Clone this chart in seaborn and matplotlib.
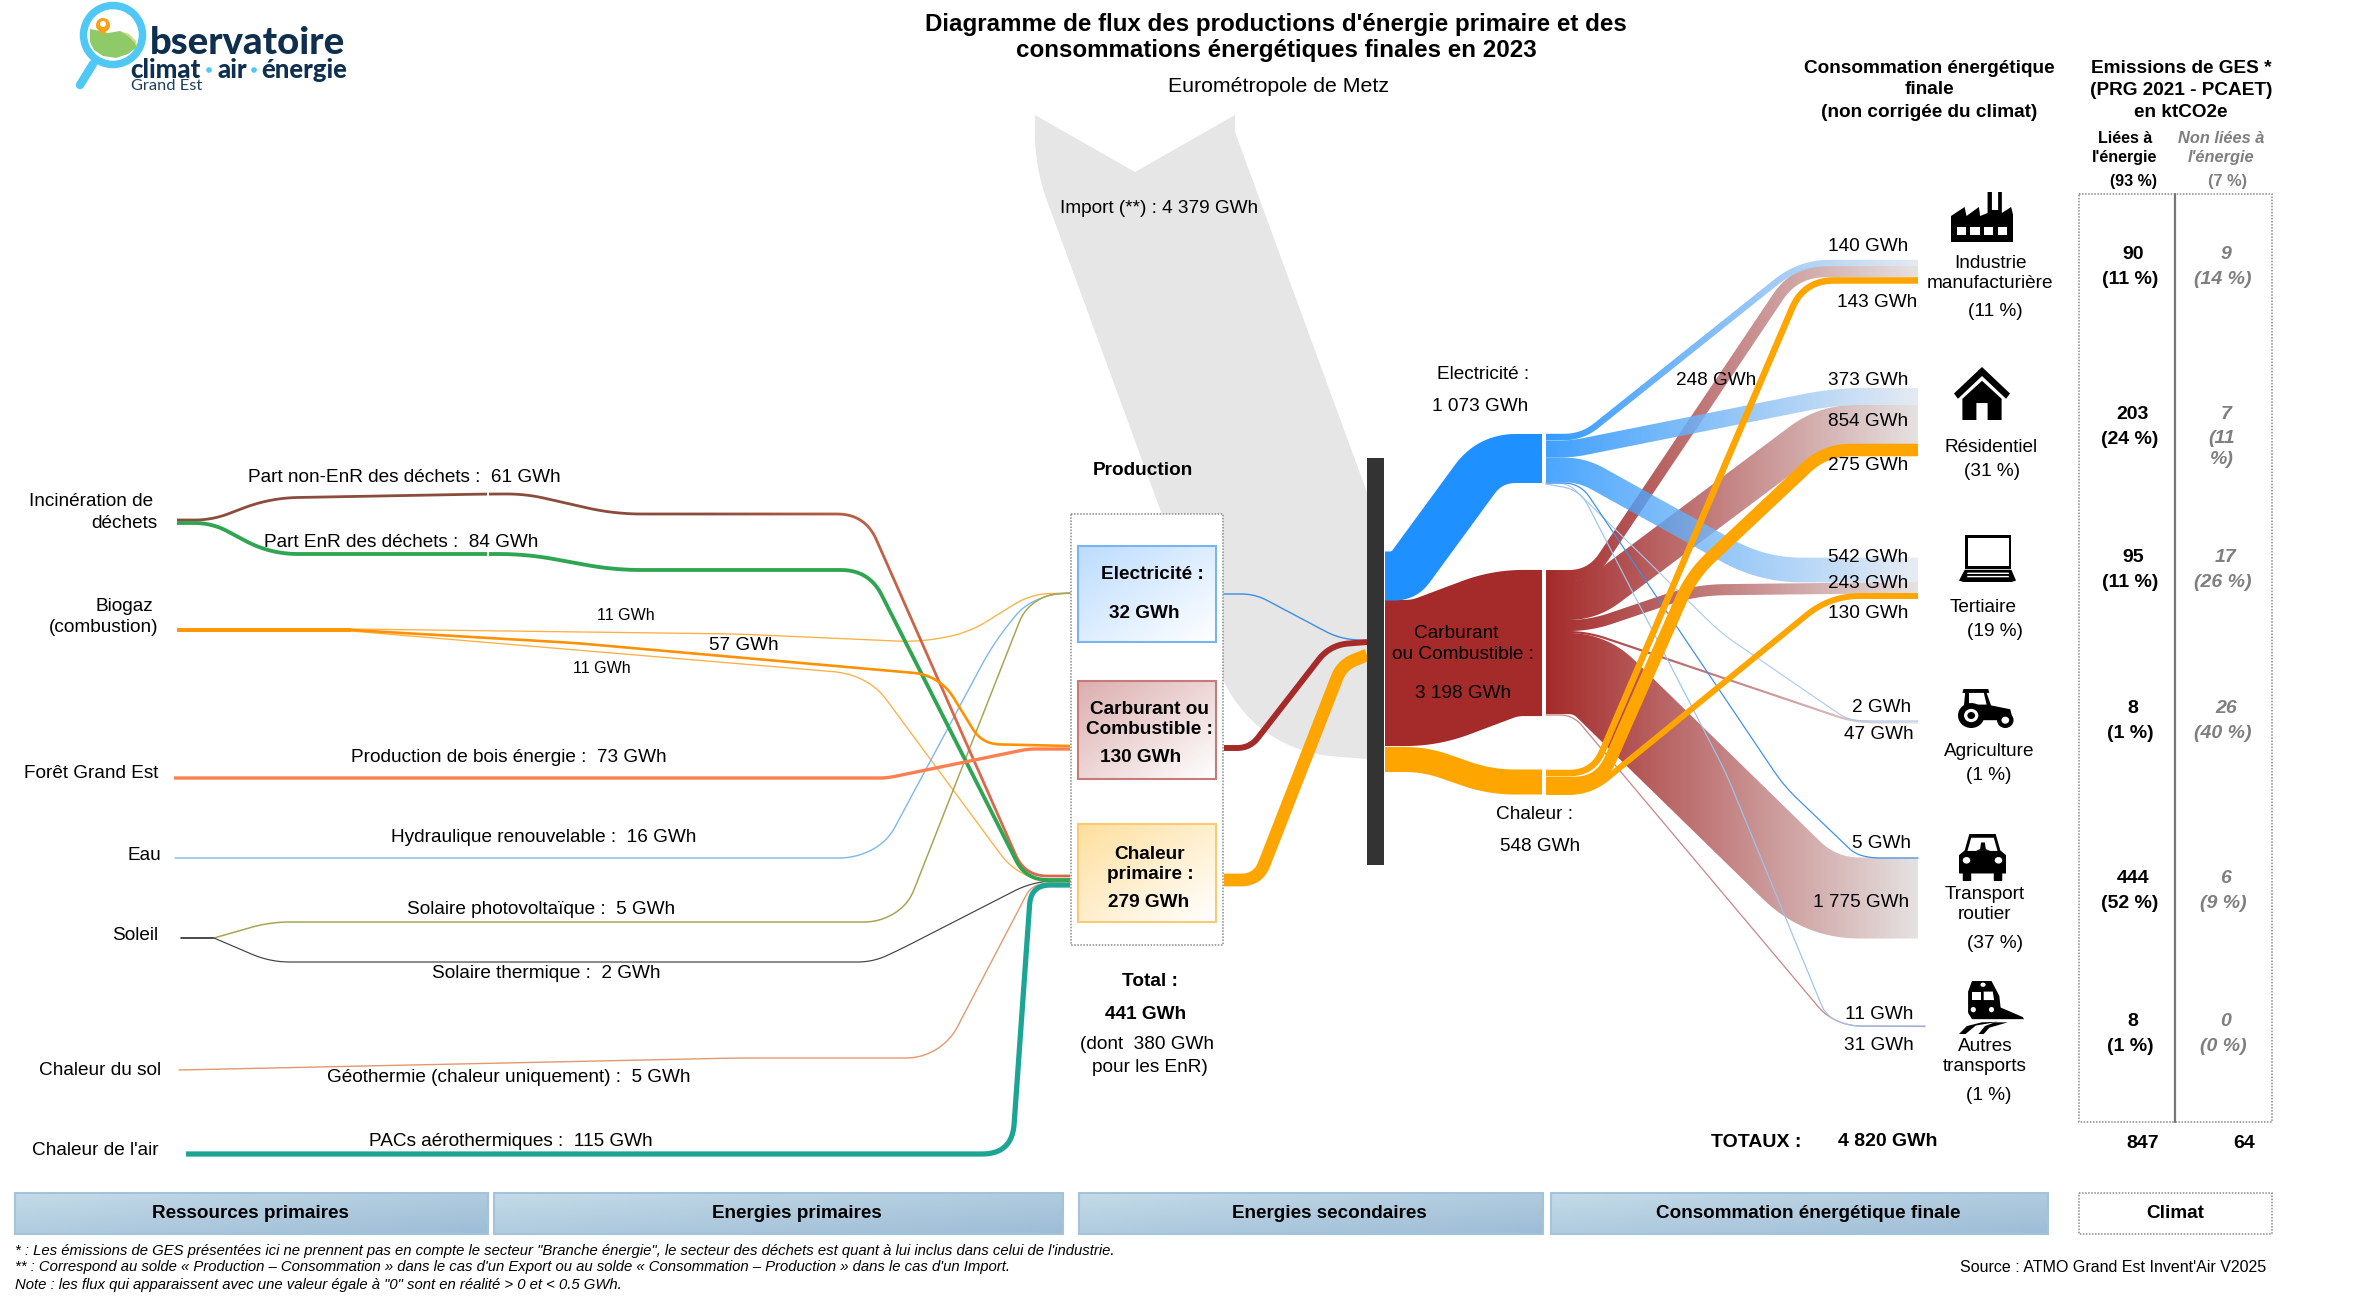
import numpy as np
import matplotlib
matplotlib.use("Agg")
import matplotlib.pyplot as plt
from matplotlib.patches import Polygon, Rectangle, Circle, Ellipse
from matplotlib.colors import to_rgb
import seaborn as sns

# values (GWh)
dechets_nonenr = 61
dechets_enr = 84
biogaz_vals = [11, 57, 11]
bois = 73
hydro = 16
solaire_pv = 5
solaire_th = 2
geothermie = 5
pac = 115
import_val = 4379
prod_labels = ["Electricité :", "Carburant ou\nCombustible :", "Chaleur\nprimaire :"]
prod_vals = [32, 130, 279]
prod_total = 441
prod_enr = 380
sec_vals = [1073, 3198, 548]
# order: industrie, residentiel, tertiaire, agriculture, transport, autres
elec_out = [140, 373, 542, 2, 5, 11]
carb_out = [248, 854, 243, 47, 1775, 31]
chal_out = [143, 275, 130]
secteurs = ["Industrie\nmanufacturière", "Résidentiel", "Tertiaire", "Agriculture", "Transport\nroutier", "Autres\ntransports"]
secteurs_pct = [11, 31, 19, 1, 37, 1]
conso_total = 4820
ges_energie = [90, 203, 95, 8, 444, 8]
ges_energie_pct = [11, 24, 11, 1, 52, 1]
ges_autre = [9, 7, 17, 26, 6, 0]
ges_autre_pct = [14, 11, 26, 40, 9, 0]
ges_total = [847, 64]
bandeaux = ["Ressources primaires", "Energies primaires", "Energies secondaires", "Consommation énergétique finale"]

sns.set_theme(style="white")
plt.rcParams["font.family"] = ["Liberation Sans", "DejaVu Sans"]

fig = plt.figure(figsize=(23.7, 12.99), dpi=100)
ax = fig.add_axes([0, 0, 1, 1])

PX = 0.0457  # pixels per GWh
PT = 0.72    # points per pixel


def gwh(v):
    return f"{v:,}".replace(",", " ") + " GWh"


def smooth(pts, r):
    pts = np.array(pts, float)
    out = [pts[0]]
    for i in range(1, len(pts) - 1):
        a, b, c = pts[i - 1], pts[i], pts[i + 1]
        la, lc = np.linalg.norm(a - b), np.linalg.norm(c - b)
        rr = min(r, la / 2, lc / 2)
        p0 = b + (a - b) / la * rr
        p2 = b + (c - b) / lc * rr
        for t in np.linspace(0, 1, 17):
            out.append((1 - t) ** 2 * p0 + 2 * t * (1 - t) * b + t ** 2 * p2)
    out.append(pts[-1])
    out = np.array(out)
    keep = np.r_[True, np.linalg.norm(np.diff(out, axis=0), axis=1) > 1e-6]
    return out[keep]


def thin(pts, value, color, r=25, z=3, width=None, alpha=1.0):
    p = smooth(pts, r)
    w = max(value * PX, 1.0) if width is None else width
    sns.lineplot(x=p[:, 0], y=p[:, 1], sort=False, estimator=None, color=color,
                 linewidth=w * PT, alpha=alpha, ax=ax, zorder=z, legend=False)


def ribbon(pts, value, c0, c1=None, grad=None, r=30, z=3, alpha=1.0, notch=None, xmax=None):
    p = smooth(pts, r)
    w = value * PX
    t = np.gradient(p, axis=0)
    t = t / np.linalg.norm(t, axis=1, keepdims=True)
    n = np.c_[-t[:, 1], t[:, 0]]
    up, lo = p + n * w / 2, p - n * w / 2
    poly = np.vstack([up, lo[::-1]])
    if notch is not None:
        poly = np.vstack([[notch], poly])
    if c1 is None:
        patch = Polygon(poly, closed=True, fc=c0, ec="none", alpha=alpha, zorder=z)
        ax.add_patch(patch)
        if xmax is not None:
            patch.set_clip_path(Rectangle((0, 0), xmax, 1299, transform=ax.transData))
        return
    patch = Polygon(poly, closed=True, fc="none", ec="none", zorder=z)
    ax.add_patch(patch)
    # colour only changes between grad[0] and grad[1], flat outside
    xa, xb = poly[:, 0].min() - 2, poly[:, 0].max() + 2
    xs = np.linspace(xa, xb, 512)
    f = np.clip((xs - grad[0]) / (grad[1] - grad[0]), 0, 1)[None, :, None]
    a, b = np.array(to_rgb(c0)), np.array(to_rgb(c1))
    arr = np.concatenate([a + (b - a) * f, np.full((1, 512, 1), alpha)], axis=2)
    im = ax.imshow(arr, extent=(xa, xb, 1299, 0), aspect="auto", zorder=z, interpolation="bilinear")
    im.set_clip_path(patch)


def T(x, y, s, size=13.7, weight="normal", style="normal", color="black", ha="center", **kw):
    ax.text(x, y + 1.5, s, fontsize=size, fontweight=weight, fontstyle=style, color=color,
            ha=ha, va="center", zorder=30, **kw)


def grad_box(x0, y0, x1, y1, c0, c1, ec, z=4, diag=True, lw=1.5):
    a, b = np.array(to_rgb(c0)), np.array(to_rgb(c1))
    gx, gy = np.meshgrid(np.linspace(0, 1, 64), np.linspace(0, 1, 64))
    f = ((gx + gy) / 2 if diag else gx)[:, :, None]
    ax.imshow(a + (b - a) * f, extent=(x0, x1, y1, y0), aspect="auto", zorder=z, interpolation="bilinear")
    ax.add_patch(Rectangle((x0, y0), x1 - x0, y1 - y0, fc="none", ec=ec, lw=lw, zorder=z + 0.1))


def dotted(x0, y0, x1, y1, z=2, fc="none"):
    ax.add_patch(Rectangle((x0, y0), x1 - x0, y1 - y0, fc=fc, ec="#8a8a8a", lw=1.1, ls=(0, (1, 1)), zorder=z))


# import arrow behind the production box
ribbon([(1135, 115), (1135, 150), (1320, 655), (1385, 660)], import_val, "#e6e6e6", r=22, z=1,
       notch=(1135, 172), xmax=1376)
dotted(1071, 514, 1223, 945, z=2, fc="white")

# ressources -> production
BROWN, REDORANGE = "#8b4c3c", "#d9694a"
ribbon([(177, 520), (212, 520), (270, 498), (488, 494), (526, 494), (614, 514), (865, 514), (1025, 876), (1070, 876)],
       dechets_nonenr, BROWN, REDORANGE, grad=(700, 960), r=28, z=3.2)
ribbon([(177, 523), (212, 523), (270, 554), (526, 554), (614, 570), (869, 570), (1026, 880), (1070, 880)],
       dechets_enr, "#2fa552", r=28, z=3.3)
ax.plot([488, 488], [488, 560], color="white", lw=1.4, zorder=3.5)
ribbon([(177, 630), (351, 630)], sum(biogaz_vals), "#ff9800", r=5, z=3.4)
thin([(351, 629), (737, 634), (919, 642), (968, 633), (1031, 594), (1070, 593)], biogaz_vals[0], "#ffae42", r=22, width=1.3)
ribbon([(351, 630), (575, 643), (926, 674), (947, 687), (982, 744), (1070, 746)], biogaz_vals[1], "#ff9000", r=18, z=3.4)
thin([(351, 631), (849, 673), (877, 687), (1010, 867), (1038, 881), (1070, 881)], biogaz_vals[2], "#ffae42", r=22, width=1.3)
ribbon([(174, 778), (887, 778), (1028, 749), (1070, 749)], bois, "#ff7f50", r=8, z=3.4)
thin([(175, 858), (856, 858), (887, 842), (993, 644), (1024, 605), (1052, 594), (1070, 593)], hydro, "#7db8f0", r=25, width=1.4)
thin([(181, 938), (214, 938)], solaire_pv + solaire_th, "#222222", r=2, width=1.6)
thin([(214, 938), (270, 922), (880, 922), (908, 905), (1024, 610), (1045, 595), (1070, 593)], solaire_pv, "#a8a451", r=20, width=1.5)
thin([(214, 938), (270, 962), (873, 962), (901, 949), (1024, 886), (1045, 881), (1070, 881)], solaire_th, "#444444", r=20, width=1.2)
thin([(179, 1070), (737, 1058), (922, 1058), (950, 1041), (1031, 886), (1052, 882), (1070, 882)], geothermie, "#e49a6c", r=22, width=1.4)
ribbon([(186, 1154), (1012, 1154), (1031, 885), (1070, 885)], pac, "#1ca594", r=30, z=3.5)

# production boxes
grad_box(1078, 546, 1216, 642, "#bcdcff", "#ffffff", "#78b4f0")
grad_box(1078, 681, 1216, 779, "#dcaeae", "#ffffff", "#c87a7a")
grad_box(1078, 824, 1216, 922, "#ffdf9e", "#ffffff", "#f9ca72")

# production -> bar
thin([(1224, 594), (1255, 594), (1338, 638), (1367, 641)], prod_vals[0], "#3a8fe8", r=14, z=5, width=1.4)
ribbon([(1224, 748), (1250, 748), (1330, 645), (1367, 642)], prod_vals[1], "#a52a2a", r=22, z=5)
ribbon([(1224, 880), (1258, 880), (1342, 665), (1367, 655)], prod_vals[2], "#ffa500", r=22, z=5)
ax.add_patch(Rectangle((1367, 458), 17, 407, fc="#333333", ec="none", zorder=6))

# secondary nodes
ELEC, CARB, CHAL = "#1e90ff", "#a52a2a", "#ffa500"
ribbon([(1385, 576), (1404, 576), (1490, 458.5), (1542, 458.5)], sec_vals[0], ELEC, r=32, z=6)
ribbon([(1385, 673), (1425, 673), (1505, 643), (1542, 643)], sec_vals[1], CARB, r=30, z=5.5)
ribbon([(1385, 759.5), (1425, 759.5), (1490, 782), (1542, 782)], sec_vals[2], CHAL, r=25, z=6)

# final consumption flows: fuel first, then electricity, then heat on top
PALE_C, PALE_E = "#e6e2e2", "#e2e8f0"
GR = (1546, 1918)
ribbon([(1546, 575.7), (1591, 575.7), (1795, 271.7), (1918, 271.7)], carb_out[0], CARB, PALE_C, grad=GR, r=30, z=7)
ribbon([(1546, 600.5), (1590, 600.5), (1825, 424.5), (1918, 424.5)], carb_out[1], CARB, PALE_C, grad=GR, r=30, z=7)
ribbon([(1546, 625.5), (1590, 625.5), (1695, 590), (1918, 587.5)], carb_out[2], CARB, PALE_C, grad=GR, r=30, z=7)
ribbon([(1546, 632), (1587, 632), (1848, 720), (1870, 722.5), (1918, 722.5)], carb_out[3], CARB, PALE_C, grad=GR, r=20, z=7)
ribbon([(1546, 673.5), (1590, 673.5), (1820, 898), (1918, 898)], carb_out[4], CARB, PALE_C, grad=GR, r=40, z=7)
thin([(1546, 715), (1573, 715), (1826, 1016), (1849, 1026), (1925, 1026.5)], carb_out[5], "#c98a8a", r=20, z=7.1, width=1.3)

ribbon([(1546, 437), (1582, 437), (1800, 263), (1918, 263)], elec_out[0], ELEC, PALE_E, grad=GR, r=30, z=8, alpha=0.9)
ribbon([(1546, 449), (1572, 449), (1835, 396.5), (1918, 396.5)], elec_out[1], ELEC, PALE_E, grad=GR, r=30, z=8, alpha=0.85)
ribbon([(1546, 470), (1582, 470), (1762, 570), (1918, 570)], elec_out[2], ELEC, PALE_E, grad=GR, r=40, z=8, alpha=0.8)
thin([(1546, 483), (1568, 483), (1721, 633), (1848, 720), (1870, 721), (1918, 721)], elec_out[3], "#a8c8f0", r=18, z=8, width=1.1)
thin([(1546, 483), (1580, 483), (1784, 786), (1855, 854), (1872, 858), (1918, 858)], elec_out[4], "#3a8fe8", r=18, z=8, width=1.2)
thin([(1546, 484), (1580, 490), (1726, 773), (1826, 1016), (1849, 1026), (1925, 1026)], elec_out[5], "#9cc4f2", r=18, z=8, width=1.2)

ribbon([(1546, 792), (1590, 792), (1830, 596), (1918, 596)], chal_out[2], CHAL, r=30, z=9)
ribbon([(1546, 773), (1593, 773), (1804, 280.5), (1918, 280.5)], chal_out[0], CHAL, r=30, z=9)
ribbon([(1546, 783), (1600, 783), (1692, 575), (1825, 450), (1918, 450)], chal_out[1], CHAL, r=26, z=9)


# icons, drawn in their own little boxes
def box_pts(box, pts):
    x0, y0, x1, y1 = box
    p = np.array(pts, float)
    return np.c_[x0 + p[:, 0] * (x1 - x0), y0 + p[:, 1] * (y1 - y0)]


def ic_poly(box, pts, c="black", z=12):
    ax.add_patch(Polygon(box_pts(box, pts), closed=True, fc=c, ec="none", zorder=z))


def ic_ell(box, cx, cy, rx, ry, c="black", z=12):
    p = box_pts(box, [(cx, cy)])[0]
    ax.add_patch(Ellipse(p, 2 * rx * (box[2] - box[0]), 2 * ry * (box[3] - box[1]), fc=c, ec="none", zorder=z))


b = (1951, 192, 2013, 242)
ic_poly(b, [(0, 1), (0, .48), (.22, .3), (.25, .48), (.45, .3), (.47, .48), (.59, .42), (.59, 0), (.66, 0), (.66, .36),
            (.76, .36), (.76, 0), (.82, 0), (.82, .42), (.97, .3), (1, .45), (1, 1)])
for wx in [.09, .31, .53, .75]:
    ic_poly(b, [(wx, .7), (wx + .15, .7), (wx + .15, .86), (wx, .86)], "white", 13)

b = (1954, 367, 2010, 420)
ic_poly(b, [(.5, 0), (1, .5), (.93, .6), (.5, .17), (.07, .6), (0, .5)])
ic_poly(b, [(.5, .26), (.85, .6), (.85, 1), (.6, 1), (.6, .68), (.4, .68), (.4, 1), (.15, 1), (.15, .6)])

b = (1959, 535, 2016, 582)
ic_poly(b, [(.1, 0), (.92, 0), (.92, .72), (.1, .72)])
ic_poly(b, [(.15, .06), (.87, .06), (.87, .66), (.15, .66)], "white", 13)
ic_poly(b, [(.1, .74), (.92, .74), (1, .97), (.92, 1), (.08, 1), (0, .97)])
for yy in [.8, .87]:
    ic_poly(b, [(.15, yy), (.87, yy), (.88, yy + .03), (.14, yy + .03)], "white", 13)

b = (1958, 689, 2013, 728)
ic_poly(b, [(.1, .0), (.55, .0), (.57, .1), (.52, .1), (.6, .42), (.95, .52), (1, .8), (.45, .8), (.1, .55), (.13, .1), (.08, .1)])
ic_poly(b, [(.2, .1), (.47, .1), (.52, .4), (.2, .4)], "white", 13)
ic_ell(b, .24, .68, .24, .32, z=13)
ic_ell(b, .24, .68, .13, .17, "white", 14)
ic_ell(b, .24, .68, .07, .09, z=15)
ic_ell(b, .86, .8, .15, .2, z=13)
ic_ell(b, .86, .8, .07, .09, "white", 14)

b = (1959, 834, 2006, 881)
ic_poly(b, [(.22, 0), (.78, 0), (.88, .35), (1, .45), (1, .84), (.92, .84), (.92, 1), (.74, 1), (.74, .84), (.26, .84), (.26, 1),
            (.08, 1), (.08, .84), (0, .84), (0, .45), (.12, .35)])
ic_poly(b, [(.26, .08), (.74, .08), (.82, .36), (.18, .36)], "white", 13)
ic_poly(b, [(.45, .32), (.47, .18), (.55, .18), (.57, .32), (.66, .36), (.36, .36)], "black", 14)
ic_ell(b, .16, .56, .08, .07, "white", 13)
ic_ell(b, .84, .56, .08, .07, "white", 13)

b = (1959, 981, 2024, 1034)
ic_poly(b, [(.2, 0), (.5, 0), (.62, .28), (.64, .5), (.98, .68), (1, .72), (.2, .72), (.14, .6), (.14, .2)])
ic_poly(b, [(.2, .2), (.34, .2), (.34, .36), (.2, .36)], "white", 13)
ic_poly(b, [(.38, .2), (.52, .2), (.54, .36), (.38, .36)], "white", 13)
ic_ell(b, .37, .07, .04, .04, "white", 13)
ic_ell(b, .22, .54, .04, .05, "white", 13)
ic_ell(b, .5, .54, .04, .05, "white", 13)
ic_poly(b, [(.0, 1), (.1, 1), (.26, .84), (.6, .77), (.35, .78), (.12, .85)])
ic_poly(b, [(.3, 1), (.38, 1), (.47, .88), (.75, .78), (.55, .78), (.4, .85)])

# logo
ax.add_patch(Circle((113, 35), 29.5, fc="none", ec="#4fc8f6", lw=7.5 * PT, zorder=12))
ax.plot([93, 80], [64, 85], color="#4fc8f6", lw=8.5 * PT, solid_capstyle="round", zorder=12)
ic_poly((0, 0, 1, 1), [(90, 29), (100, 31), (108, 33), (120, 31), (128, 35), (135, 43), (137, 47), (128, 54), (116, 58),
                        (103, 56), (94, 50), (90, 42)], "#8fca68", 12.5)
ic_poly((0, 0, 1, 1), [(120, 31), (129, 34), (136, 41), (137, 47), (132, 39)], "#c8dc80", 12.6)
ic_poly((0, 0, 1, 1), [(96, 27), (110, 27), (103, 35)], "#f9a11b", 13)
ax.add_patch(Circle((103, 25), 7, fc="#f9a11b", ec="none", zorder=13))
ax.add_patch(Circle((103, 24), 3, fc="white", ec="none", zorder=14))
T(150, 41, "bservatoire", size=27.5, weight=900, color="#0f2f4f", ha="left", family="Lato")
T(130, 68, "climat", size=18.5, weight=900, color="#0f2f4f", ha="left", family="Lato")
T(217, 68, "air", size=18.5, weight=900, color="#0f2f4f", ha="left", family="Lato")
T(261, 68, "énergie", size=18.5, weight=900, color="#0f2f4f", ha="left", family="Lato")
for dx in [209, 254]:
    ax.add_patch(Circle((dx, 70), 2.8, fc="#4fc8f6", ec="none", zorder=13))
T(131, 84.5, "Grand Est", size=11.8, color="#1f3f5f", ha="left", family="Lato")

# titles
T(1276, 23, "Diagramme de flux des productions d'énergie primaire et des", size=17.4, weight="bold")
T(1276, 49, "consommations énergétiques finales en 2023", size=17.4, weight="bold")
T(1279, 85, "Eurométropole de Metz", size=15.3)
for yy, s in zip([67, 88, 111], ["Consommation énergétique", "finale", "(non corrigée du climat)"]):
    T(1929, yy, s, size=13.7, weight="bold")
for yy, s in zip([67, 89, 111], ["Emissions de GES *", "(PRG 2021 - PCAET)", "en ktCO2e"]):
    T(2181, yy, s, size=13.7, weight="bold")
T(2125, 137, "Liées à", size=11.5, weight="bold")
T(2125, 156, "l'énergie", size=11.5, weight="bold")
T(2133, 180, "(93 %)", size=11.5, weight="bold")
T(2221, 137, "Non liées à", size=11.8, weight="bold", style="italic", color="#7f7f7f")
T(2221, 156, "l'énergie", size=11.8, weight="bold", style="italic", color="#7f7f7f")
T(2228, 180, "(7 %)", size=11.8, weight="bold", color="#7f7f7f")

# left labels
for x, y, s in [(91, 500, "Incinération de"), (124, 522, "déchets"), (124, 605, "Biogaz"), (104, 626, "(combustion)"),
                (91, 772, "Forêt Grand Est"), (144, 854, "Eau"), (135, 934, "Soleil"), (100, 1069, "Chaleur du sol"),
                (95, 1149, "Chaleur de l'air")]:
    T(x, y, s)

T(404, 476, f"Part non-EnR des déchets :  {gwh(dechets_nonenr)}")
T(401, 541, f"Part EnR des déchets :  {gwh(dechets_enr)}")
T(626, 614, gwh(biogaz_vals[0]), size=11.5)
T(744, 644, gwh(biogaz_vals[1]))
T(602, 667, gwh(biogaz_vals[2]), size=11.5)
T(509, 756, f"Production de bois énergie :  {gwh(bois)}")
T(544, 836, f"Hydraulique renouvelable :  {gwh(hydro)}")
T(541, 908, f"Solaire photovoltaïque :  {gwh(solaire_pv)}")
T(546, 972, f"Solaire thermique :  {gwh(solaire_th)}")
T(509, 1076, f"Géothermie (chaleur uniquement) :  {gwh(geothermie)}")
T(511, 1140, f"PACs aérothermiques :  {gwh(pac)}")

# production column
T(1143, 469, "Production", weight="bold")
T(1152, 573, prod_labels[0], weight="bold")
T(1144, 612, gwh(prod_vals[0]), weight="bold")
T(1149, 718, prod_labels[1], weight="bold", linespacing=1.25)
T(1141, 756, gwh(prod_vals[1]), weight="bold")
T(1150, 863, prod_labels[2], weight="bold", linespacing=1.25)
T(1149, 901, gwh(prod_vals[2]), weight="bold")
T(1150, 980, "Total :", weight="bold")
T(1146, 1013, gwh(prod_total), weight="bold")
T(1147, 1043, f"(dont  {gwh(prod_enr)}")
T(1150, 1066, "pour les EnR)")
T(1159, 207, f"Import (**) : {gwh(import_val)}")

# secondary labels
T(1483, 373, "Electricité :")
T(1480, 405, gwh(sec_vals[0]))
T(1456, 632, "Carburant")
T(1463, 653, "ou Combustible :")
T(1463, 692, gwh(sec_vals[1]))
T(1534, 813, "Chaleur :")
T(1540, 845, gwh(sec_vals[2]))

# flow labels at the right
for x, y, v in [(1868, 245, elec_out[0]), (1877, 301, chal_out[0]), (1716, 379, carb_out[0]), (1868, 379, elec_out[1]),
                (1868, 420, carb_out[1]), (1868, 464, chal_out[1]), (1868, 556, elec_out[2]), (1868, 582, carb_out[2]),
                (1868, 612, chal_out[2]), (1882, 706, elec_out[3]), (1879, 733, carb_out[3]), (1882, 842, elec_out[4]),
                (1861, 901, carb_out[4]), (1879, 1013, elec_out[5]), (1879, 1044, carb_out[5])]:
    T(x, y, gwh(v))

# sectors
sect_x = [1990, 1991, 1983, 1989, 1985, 1985]
sect_y = [272, 446, 606, 750, 903, 1055]
pct_x = [1995, 1992, 1995, 1989, 1995, 1989]
pct_y = [310, 470, 630, 774, 942, 1094]
for i in range(6):
    T(sect_x[i], sect_y[i], secteurs[i], linespacing=1.25)
    T(pct_x[i], pct_y[i], f"({secteurs_pct[i]} %)")

# emissions panel
dotted(2079, 194, 2272, 1122, z=2)
ax.plot([2175, 2175], [194, 1122], color="#777777", lw=1.6, zorder=3)
ges_y = [253, 413, 556, 707, 877, 1020]
GRIS = "#7f7f7f"
for i in range(6):
    T(2133, ges_y[i], str(ges_energie[i]), size=14, weight="bold")
    T(2130, ges_y[i] + 25, f"({ges_energie_pct[i]} %)", size=14, weight="bold")
    T(2226, ges_y[i], str(ges_autre[i]), size=14, weight="bold", style="italic", color=GRIS)
    if ges_autre_pct[i] == 11:
        T(2222, ges_y[i] + 24, "(11", size=14, weight="bold", style="italic", color=GRIS)
        T(2222, ges_y[i] + 45, "%)", size=14, weight="bold", style="italic", color=GRIS)
    else:
        T(2223, ges_y[i] + 25, f"({ges_autre_pct[i]} %)", size=14, weight="bold", style="italic", color=GRIS)

# totals
T(1756, 1141, "TOTAUX :", size=14, weight="bold")
T(1888, 1140, gwh(conso_total), size=14, weight="bold")
T(2143, 1142, str(ges_total[0]), size=14, weight="bold")
T(2244, 1142, str(ges_total[1]), size=14, weight="bold")

# bottom bands
band_x = [(15, 488), (494, 1063), (1079, 1543), (1551, 2048)]
band_tx = [250, 797, 1329, 1808]
for (x0, x1), tx, s in zip(band_x, band_tx, bandeaux):
    grad_box(x0, 1193, x1, 1234, "#c4dbe8", "#9dbcd6", "#a3c2dc", z=4, lw=1.5)
    T(tx, 1212, s, size=13.6, weight="bold")
dotted(2079, 1193, 2272, 1234, z=4)
T(2175, 1212, "Climat", size=13.6, weight="bold")

# notes
NOTE = 10.7
T(15, 1249, "* : Les émissions de GES présentées ici ne prennent pas en compte le secteur \"Branche énergie\", le secteur des déchets est quant à lui inclus dans celui de l'industrie.",
  size=NOTE, style="italic", ha="left")
T(15, 1266, "** : Correspond au solde « Production – Consommation » dans le cas d'un Export ou au solde « Consommation – Production » dans le cas d'un Import.",
  size=NOTE, style="italic", ha="left")
T(15, 1283, "Note : les flux qui apparaissent avec une valeur égale à \"0\" sont en réalité > 0 et < 0.5 GWh.",
  size=NOTE, style="italic", ha="left")
T(2113, 1266, "Source : ATMO Grand Est Invent'Air V2025", size=11.5)

ax.set_xlim(0, 2370)
ax.set_ylim(1299, 0)
ax.axis("off")
fig.savefig("out.png", dpi=100)
